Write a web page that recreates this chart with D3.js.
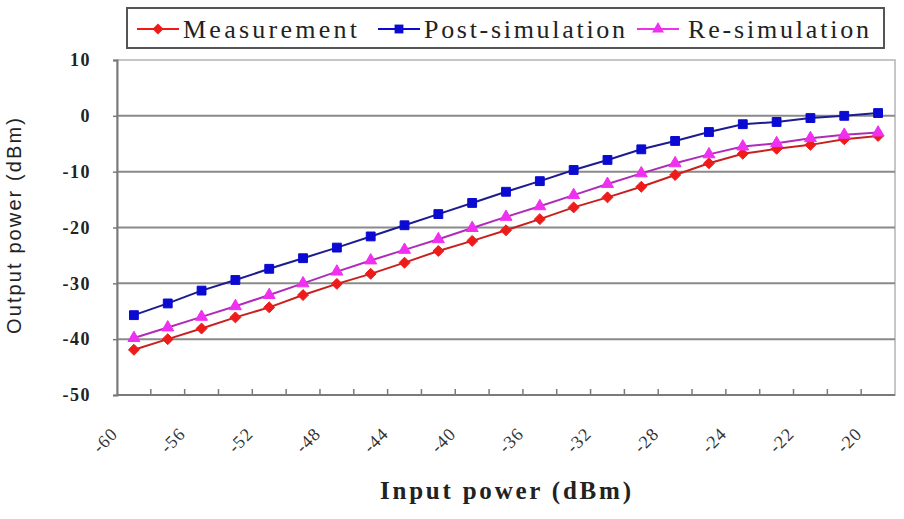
<!DOCTYPE html>
<html>
<head>
<meta charset="utf-8">
<script src="https://cdn.jsdelivr.net/npm/d3@7"></script>
<style>
  html, body { margin: 0; padding: 0; background: #fff; }
  svg { display: block; }
  .serif { font-family: "Liberation Serif", "Times New Roman", Times, serif; }
  .sans { font-family: "Liberation Sans", Arial, Helvetica, sans-serif; }
</style>
</head>
<body>
<svg id="chart" width="904" height="519"></svg>
<script>
// Input power categories (dBm)
const categories = [-60, -58, -56, -54, -52, -50, -48, -46, -44, -42, -40, -38, -36, -34, -32, -30, -28, -26, -24, -23, -22, -21, -20];
// Category labels printed under the axis (every other category)
const xTickLabels = ["-60", "-56", "-52", "-48", "-44", "-40", "-36", "-32", "-28", "-24", "-22", "-20"];
const yTicks = [10, 0, -10, -20, -30, -40, -50];

// Output power (dBm)
const measurement = [-41.9, -40.0, -38.1, -36.1, -34.3, -32.1, -30.1, -28.3, -26.3, -24.2, -22.4, -20.5, -18.5, -16.4, -14.6, -12.7, -10.6, -8.5, -6.8, -5.9, -5.2, -4.2, -3.6];
const postSimulation = [-35.7, -33.6, -31.3, -29.4, -27.4, -25.5, -23.6, -21.6, -19.6, -17.6, -15.6, -13.6, -11.7, -9.7, -7.9, -6.0, -4.5, -2.9, -1.5, -1.1, -0.4, 0.0, 0.5];
const reSimulation = [-39.8, -37.9, -36.0, -34.1, -32.1, -30.0, -27.9, -25.9, -24.0, -22.1, -20.1, -18.1, -16.2, -14.2, -12.2, -10.3, -8.5, -6.9, -5.5, -4.9, -4.0, -3.4, -3.0];

const seriesNames = ["Measurement", "Post-simulation", "Re-simulation"];

// square diamond marker (a square turned 45 degrees)
const symbolRhomb = {
  draw(ctx, size) {
    const r = Math.sqrt(size / 2);
    ctx.moveTo(0, -r); ctx.lineTo(r, 0); ctx.lineTo(0, r); ctx.lineTo(-r, 0); ctx.closePath();
  }
};

const series = [
  { name: seriesNames[0], values: measurement, line: "#c8201e", fill: "#ee1b1b", shape: symbolRhomb, size: 60 },
  { name: seriesNames[1], values: postSimulation, line: "#1c1c8e", fill: "#0a0ad2", shape: d3.symbolSquare, size: 78 },
  { name: seriesNames[2], values: reSimulation, line: "#b02cb8", fill: "#f030f0", shape: d3.symbolTriangle, size: 62 }
];

const svg = d3.select("#chart");
const plot = { left: 117, right: 895, top: 60, bottom: 395 };

const x = d3.scaleBand().domain(categories).range([plot.left, plot.right]).paddingInner(0).paddingOuter(0);
const y = d3.scaleLinear().domain([-50, 10]).range([plot.bottom, plot.top]);
const cx = c => x(c) + x.bandwidth() / 2;

// plot area frame
svg.append("rect")
  .attr("x", plot.left).attr("y", plot.top)
  .attr("width", plot.right - plot.left).attr("height", plot.bottom - plot.top)
  .attr("fill", "#fff").attr("stroke", "#b4b4b4").attr("stroke-width", 1.5);

// horizontal gridlines
svg.append("g").selectAll("line")
  .data(yTicks.filter(t => t !== -50 && t !== 10))
  .join("line")
  .attr("x1", plot.left).attr("x2", plot.right)
  .attr("y1", d => y(d)).attr("y2", d => y(d))
  .attr("stroke", "#8a8a8a").attr("stroke-width", 2);

// y axis
const yAxis = svg.append("g")
  .attr("transform", `translate(${plot.left},0)`)
  .call(d3.axisLeft(y).tickValues(yTicks).tickSize(4).tickPadding(22).tickFormat(d3.format("d")));
yAxis.attr("font-family", null);
yAxis.select(".domain").attr("stroke", "#7a7a7a").attr("stroke-width", 2);
yAxis.selectAll(".tick line").attr("stroke", "#7a7a7a").attr("stroke-width", 1.5);
yAxis.selectAll(".tick text")
  .attr("class", "serif")
  .attr("font-size", 18).attr("font-weight", "bold").attr("fill", "#222")
  .attr("letter-spacing", 1.5)
  .text(d => d < 0 ? "-" + Math.abs(d) : d);

// x axis line with ticks on category boundaries
const xAxisG = svg.append("g");
xAxisG.append("line")
  .attr("x1", plot.left).attr("x2", plot.right)
  .attr("y1", plot.bottom).attr("y2", plot.bottom)
  .attr("stroke", "#7a7a7a").attr("stroke-width", 2);
const boundaries = categories.map(c => x(c)).concat([x(categories[categories.length - 1]) + x.bandwidth()]);
xAxisG.selectAll("line.tk")
  .data(boundaries.slice(1, -1))
  .join("line").attr("class", "tk")
  .attr("x1", d => d).attr("x2", d => d)
  .attr("y1", plot.bottom).attr("y2", plot.bottom - 6)
  .attr("stroke", "#7a7a7a").attr("stroke-width", 1.5);

// rotated category labels
const labelled = categories.filter((c, i) => i % 2 === 0);
xAxisG.selectAll("text")
  .data(labelled)
  .join("text")
  .attr("class", "serif")
  .attr("transform", d => `translate(${cx(d) - 15},${plot.bottom + 40}) rotate(-45)`)
  .attr("text-anchor", "end")
  .attr("font-size", 18).attr("fill", "#333")
  .attr("letter-spacing", 1)
  .text((d, i) => xTickLabels[i]);

// series lines and markers
const line = d3.line().x((d, i) => cx(categories[i])).y(d => y(d));
series.forEach(s => {
  svg.append("path")
    .datum(s.values)
    .attr("d", line)
    .attr("fill", "none").attr("stroke", s.line).attr("stroke-width", 2);
  svg.append("g").selectAll("path")
    .data(s.values)
    .join("path")
    .attr("transform", (d, i) => `translate(${cx(categories[i])},${y(d)})`)
    .attr("d", d3.symbol().type(s.shape).size(s.size))
    .attr("fill", s.fill).attr("stroke", s.fill).attr("stroke-width", 1);
});

// legend
const legend = svg.append("g");
legend.append("rect")
  .attr("x", 127).attr("y", 8).attr("width", 757).attr("height", 40)
  .attr("fill", "#fff").attr("stroke", "#555").attr("stroke-width", 2);
const legendItems = [
  { lx: 137, tx: 183, tw: 174 },
  { lx: 378, tx: 424, tw: 201 },
  { lx: 637, tx: 688, tw: 181 }
];
series.forEach((s, i) => {
  const it = legendItems[i];
  legend.append("line")
    .attr("x1", it.lx).attr("x2", it.lx + 42)
    .attr("y1", 29).attr("y2", 29)
    .attr("stroke", s.fill).attr("stroke-width", 2);
  legend.append("path")
    .attr("transform", `translate(${it.lx + 21},29)`)
    .attr("d", d3.symbol().type(s.shape).size(s.size))
    .attr("fill", s.fill);
  legend.append("text")
    .attr("class", "serif")
    .attr("x", it.tx).attr("y", 38)
    .attr("font-size", 26).attr("fill", "#222")
    .attr("textLength", it.tw).attr("lengthAdjust", "spacing")
    .text(s.name);
});

// axis titles
svg.append("text")
  .attr("class", "serif")
  .attr("x", 380).attr("y", 499)
  .attr("font-size", 25).attr("font-weight", "bold").attr("fill", "#222")
  .attr("textLength", 251).attr("lengthAdjust", "spacing")
  .text("Input power (dBm)");

svg.append("text")
  .attr("class", "sans")
  .attr("transform", "translate(21,226) rotate(-90)")
  .attr("text-anchor", "middle")
  .attr("font-size", 20).attr("fill", "#222")
  .attr("textLength", 216).attr("lengthAdjust", "spacing")
  .text("Output power (dBm)");
</script>
</body>
</html>
